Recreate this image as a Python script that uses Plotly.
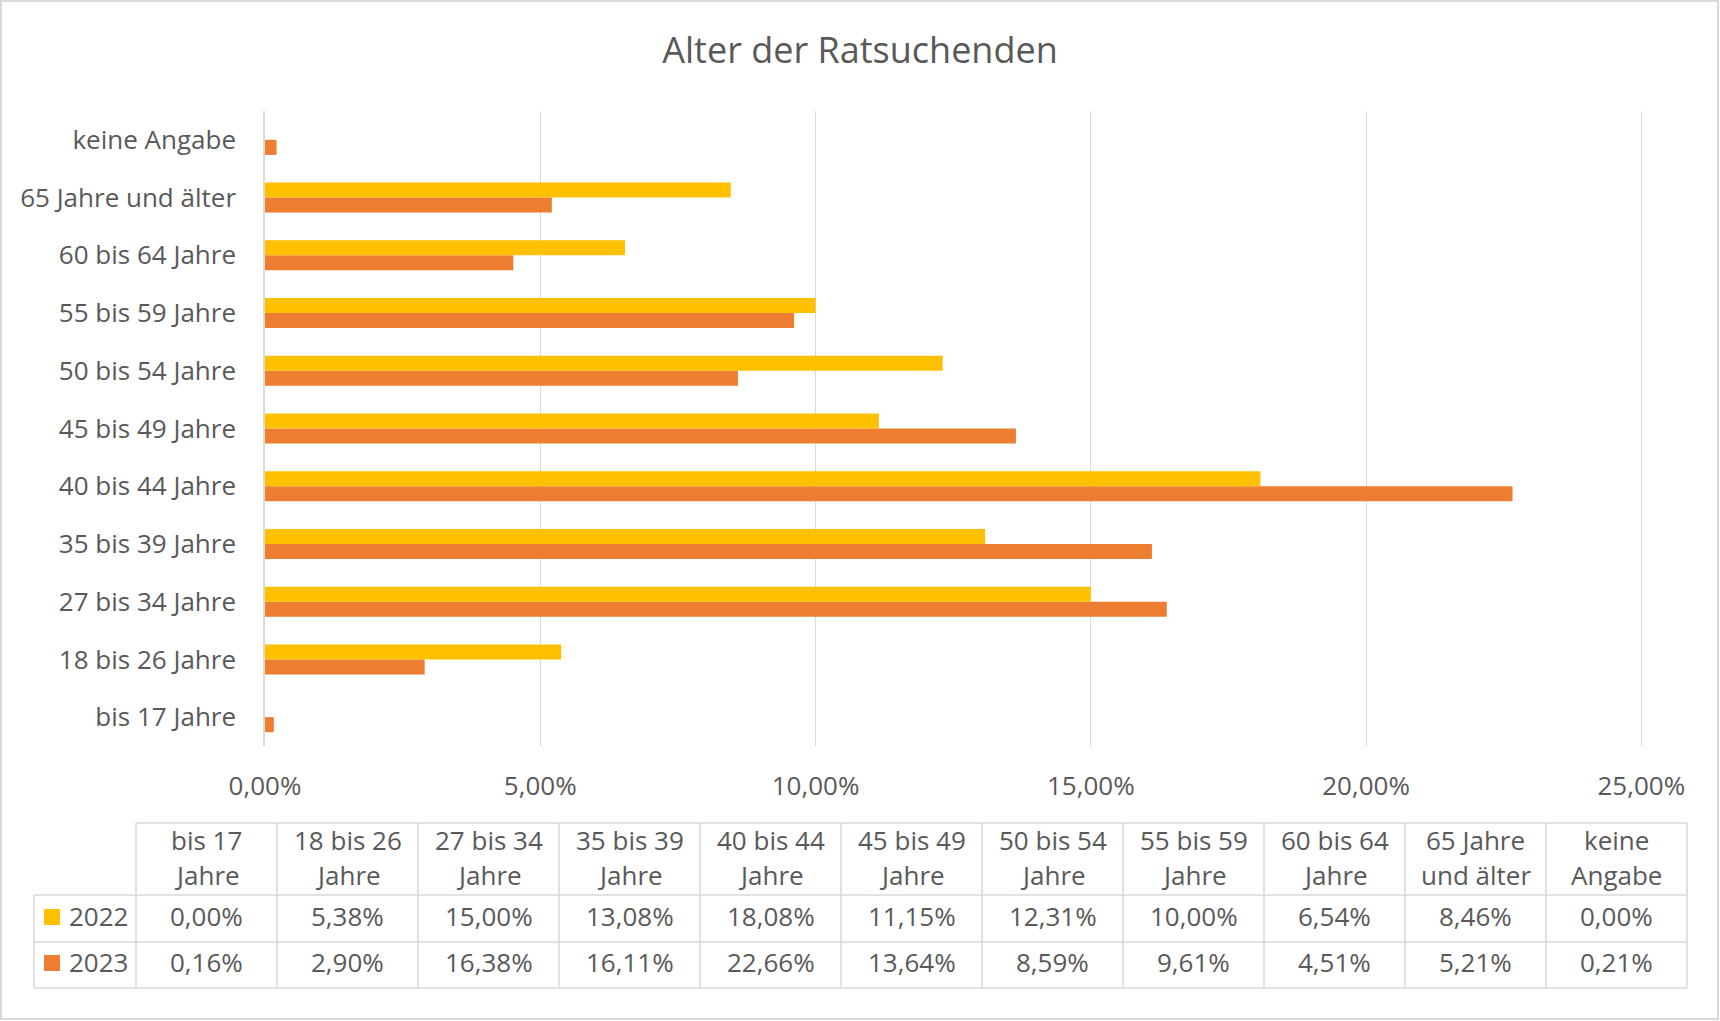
import plotly.graph_objects as go

# ---------------- data ----------------
categories = ["bis 17 Jahre", "18 bis 26 Jahre", "27 bis 34 Jahre", "35 bis 39 Jahre",
              "40 bis 44 Jahre", "45 bis 49 Jahre", "50 bis 54 Jahre", "55 bis 59 Jahre",
              "60 bis 64 Jahre", "65 Jahre und älter", "keine Angabe"]
table_headers = ["bis 17<br>Jahre", "18 bis 26<br>Jahre", "27 bis 34<br>Jahre", "35 bis 39<br>Jahre",
                 "40 bis 44<br>Jahre", "45 bis 49<br>Jahre", "50 bis 54<br>Jahre", "55 bis 59<br>Jahre",
                 "60 bis 64<br>Jahre", "65 Jahre<br>und älter", "keine<br>Angabe"]
values_2022 = [0.00, 5.38, 15.00, 13.08, 18.08, 11.15, 12.31, 10.00, 6.54, 8.46, 0.00]
values_2023 = [0.16, 2.90, 16.38, 16.11, 22.66, 13.64, 8.59, 9.61, 4.51, 5.21, 0.21]
series_names = ["2022", "2023"]
x_ticks = [0, 5, 10, 15, 20, 25]

# ---------------- styling ----------------
W, H = 1720, 1021
PL, PR, PT, PB = 265, 1643, 111, 746   # plot area in pixels
C_2022 = "#FFC000"
C_2023 = "#ED7D31"
TXT = "#595959"
GRID = "#D9D9D9"
FONT = "Open Sans"
FS = 26


def px_x(px):
    return (px - PL) / (PR - PL)


def px_y(py):
    return (PB - py) / (PB - PT)


def fmt(v):
    return f"{v:.2f}%".replace(".", ",")


fig = go.Figure()
fig.add_trace(go.Bar(y=categories, x=values_2023, orientation="h", name=series_names[1],
                     marker=dict(color=C_2023, line=dict(width=0))))
fig.add_trace(go.Bar(y=categories, x=values_2022, orientation="h", name=series_names[0],
                     marker=dict(color=C_2022, line=dict(width=0))))

shapes = []
annotations = []

# outer frame
shapes.append(dict(type="rect", xref="paper", yref="paper",
                   x0=px_x(1), x1=px_x(W - 2), y0=px_y(H - 2), y1=px_y(1),
                   line=dict(color=GRID, width=2), layer="below"))

# ---------------- data table ----------------
T_LEFT, T_COL0, COLW = 34, 136, 141
T_TOP, T_HDR, T_R1, T_BOT = 823, 895, 942, 988
T_RIGHT = T_COL0 + COLW * len(categories)
line = dict(color=GRID, width=1.5)

shapes.append(dict(type="line", xref="paper", yref="paper", x0=px_x(T_COL0), x1=px_x(T_RIGHT),
                   y0=px_y(T_TOP), y1=px_y(T_TOP), line=line))
for yy in (T_HDR, T_R1, T_BOT):
    shapes.append(dict(type="line", xref="paper", yref="paper", x0=px_x(T_LEFT), x1=px_x(T_RIGHT),
                       y0=px_y(yy), y1=px_y(yy), line=line))
shapes.append(dict(type="line", xref="paper", yref="paper", x0=px_x(T_LEFT), x1=px_x(T_LEFT),
                   y0=px_y(T_HDR), y1=px_y(T_BOT), line=line))
for i in range(len(categories) + 1):
    xx = T_COL0 + COLW * i
    shapes.append(dict(type="line", xref="paper", yref="paper", x0=px_x(xx), x1=px_x(xx),
                       y0=px_y(T_TOP), y1=px_y(T_BOT), line=line))

tfont = dict(family=FONT, size=FS, color=TXT)
for i, hdr in enumerate(table_headers):
    cx = T_COL0 + COLW * (i + 0.5)
    for ln, yy in zip(hdr.split("<br>"), (840, 875)):
        annotations.append(dict(xref="paper", yref="paper", x=px_x(cx), y=px_y(yy), text=ln,
                                showarrow=False, xanchor="center", yanchor="middle", font=tfont))
    for vals, yy in ((values_2022, 916), (values_2023, 962)):
        annotations.append(dict(xref="paper", yref="paper", x=px_x(cx), y=px_y(yy), text=fmt(vals[i]),
                                showarrow=False, xanchor="center", yanchor="middle", font=tfont))

for name, col, yy in ((series_names[0], C_2022, 917), (series_names[1], C_2023, 963)):
    shapes.append(dict(type="rect", xref="paper", yref="paper", x0=px_x(44), x1=px_x(60),
                       y0=px_y(yy + 8), y1=px_y(yy - 8), fillcolor=col, line=dict(width=0)))
    annotations.append(dict(xref="paper", yref="paper", x=px_x(67), y=px_y(yy - 1), text=name,
                            showarrow=False, xanchor="left", yanchor="middle", font=tfont))

fig.update_layout(
    width=W, height=H,
    margin=dict(l=PL, r=W - PR, t=PT, b=H - PB, pad=0),
    paper_bgcolor="white", plot_bgcolor="white",
    separators=",.",
    barmode="group", bargap=0.48, bargroupgap=0,
    showlegend=False,
    title=dict(text="Alter der Ratsuchenden", x=0.5, xref="container", xanchor="center",
               y=1 - 50 / H, yref="container", yanchor="middle",
               font=dict(family=FONT, size=36, color=TXT)),
    font=dict(family=FONT, size=FS, color=TXT),
    xaxis=dict(range=[0, 25.03], tickvals=x_ticks, ticktext=[fmt(v) for v in x_ticks],
               showgrid=True, gridcolor=GRID, gridwidth=1, zeroline=False, showline=False,
               ticks="outside", ticklen=17, tickcolor="rgba(0,0,0,0)",
               tickfont=dict(family=FONT, size=FS, color=TXT), fixedrange=True),
    yaxis=dict(type="category", categoryorder="array", categoryarray=categories,
               showgrid=False, showline=True, linecolor=GRID, linewidth=1.5,
               ticks="outside", ticklen=22, tickcolor="rgba(0,0,0,0)",
               tickfont=dict(family=FONT, size=FS, color=TXT), fixedrange=True),
    shapes=shapes,
    annotations=annotations,
)

fig.write_html("out.html", config={"displayModeBar": False},
               post_script="document.body.style.margin='0';document.body.style.overflow='hidden';")
